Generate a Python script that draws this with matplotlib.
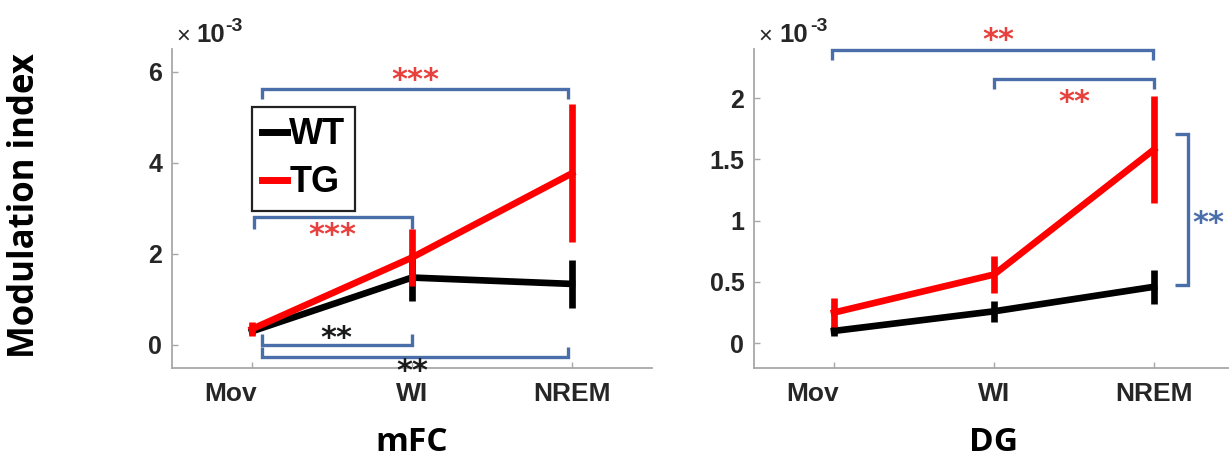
import matplotlib
matplotlib.use("Agg")
import matplotlib.pyplot as plt
from matplotlib.transforms import ScaledTranslation

# Modulation index values, in units of 1e-3
states = ["Mov", "WI", "NREM"]
x_pos = [1, 2, 3]

mfc_wt_mean = [0.30, 1.48, 1.34]
mfc_wt_err = [0.05, 0.52, 0.52]
mfc_tg_mean = [0.35, 1.92, 3.77]
mfc_tg_err = [0.16, 0.63, 1.52]

dg_wt_mean = [0.10, 0.26, 0.46]
dg_wt_err = [0.04, 0.085, 0.14]
dg_tg_mean = [0.25, 0.56, 1.58]
dg_tg_err = [0.12, 0.15, 0.44]

mfc_yticks = [0, 2, 4, 6]
mfc_yticklabels = ["0", "2", "4", "6"]
dg_yticks = [0, 0.5, 1, 1.5, 2]
dg_yticklabels = ["0", "0.5", "1", "1.5", "2"]

W, H = 1229, 463
fig = plt.figure(figsize=(W / 100, H / 100), dpi=100)

RED = "#ff0000"
BLACK = "#000000"
BRACKET = "#4a6ea9"
STAR_RED = "#e8403c"
STAR_BLUE = "#4a6ea9"
STAR_BLACK = "#1a1a1a"
TICK_COLOR = "#262626"
SPINE = "#a8a8a8"

def px_axes(left, top, right, bottom):
    return fig.add_axes([left / W, 1 - bottom / H, (right - left) / W, (bottom - top) / H])

ax1 = px_axes(172, 49, 652, 367.7)
ax2 = px_axes(754, 49, 1234, 367.7)

def style_axes(ax, ylim, yticks, yticklabels):
    ax.set_xlim(0.5, 3.5)
    ax.set_ylim(*ylim)
    for s in ("top", "right"):
        ax.spines[s].set_visible(False)
    for s in ("left", "bottom"):
        ax.spines[s].set_color(SPINE)
        ax.spines[s].set_linewidth(1.3)
    ax.set_xticks(x_pos)
    ax.set_xticklabels(states)
    ax.set_yticks(yticks)
    ax.set_yticklabels(yticklabels)
    ax.tick_params(axis="both", direction="in", length=4, width=1, color=SPINE,
                   labelcolor=TICK_COLOR)
    ax.tick_params(axis="y", labelsize=18, pad=7)
    ax.tick_params(axis="x", labelsize=19, pad=10)
    for lab in ax.get_xticklabels() + ax.get_yticklabels():
        lab.set_fontweight("bold")
        lab.set_fontfamily("Liberation Sans")
    # the first category label sits a little left of its tick
    first = ax.get_xticklabels()[0]
    first.set_transform(first.get_transform() + ScaledTranslation(-0.21, 0, fig.dpi_scale_trans))

def draw_series(ax, wt_m, wt_e, tg_m, tg_e):
    lw = 4.8
    h_wt = ax.errorbar(x_pos, wt_m, yerr=wt_e, color=BLACK, lw=lw, elinewidth=lw,
                       capsize=0, zorder=3, label="WT")
    h_tg = ax.errorbar(x_pos, tg_m, yerr=tg_e, color=RED, lw=lw, elinewidth=lw,
                       capsize=0, zorder=4, label="TG")
    return h_wt, h_tg

def bracket(ax, x0, x1, y, leg, lw=2.4):
    # horizontal significance bracket, legs pointing by `leg` (data units)
    ax.plot([x0, x0, x1, x1], [y + leg, y, y, y + leg], color=BRACKET, lw=lw,
            solid_capstyle="butt", solid_joinstyle="miter", clip_on=False, zorder=2)

def vbracket(ax, x_line, x_tip, y0, y1, lw=2.4):
    ax.plot([x_tip, x_line, x_line, x_tip], [y0, y0, y1, y1], color=BRACKET, lw=lw,
            solid_capstyle="butt", solid_joinstyle="miter", clip_on=False, zorder=2)

def stars(ax, x, y, s, color, size=22):
    ax.text(x, y, s, color=color, fontsize=size, ha="center", va="center",
            family="DejaVu Sans", fontweight="bold", clip_on=False, zorder=5)

# ---- mFC ----
style_axes(ax1, (-0.5, 6.5), mfc_yticks, mfc_yticklabels)
h_wt, h_tg = draw_series(ax1, mfc_wt_mean, mfc_wt_err, mfc_tg_mean, mfc_tg_err)

bracket(ax1, 1.06, 2.975, 5.62, -0.22)
stars(ax1, 2.02, 5.80, "***", STAR_RED)
bracket(ax1, 1.01, 2.00, 2.80, -0.25)
stars(ax1, 1.50, 2.40, "***", STAR_RED)
bracket(ax1, 1.06, 2.00, 0.00, 0.24)
stars(ax1, 1.53, 0.15, "**", STAR_BLACK)
bracket(ax1, 1.06, 2.975, -0.27, 0.22)
stars(ax1, 2.00, -0.58, "**", STAR_BLACK)

leg = ax1.legend(handles=[h_wt[0], h_tg[0]], labels=["WT", "TG"],
                 loc="upper left", bbox_to_anchor=(0.1667, 0.817),
                 prop={"family": "Liberation Sans", "weight": "bold", "size": 26},
                 handlelength=0.7, handletextpad=0.05, borderpad=0.28,
                 labelspacing=0.36, fancybox=False, framealpha=1, borderaxespad=0)
leg.get_frame().set_edgecolor("#222222")
leg.get_frame().set_linewidth(1.6)
for ln in leg.get_lines():
    ln.set_linewidth(5)

ax1.set_xlabel("mFC", fontsize=24, fontweight="bold", family="Open Sans", labelpad=15)
fig.text(25 / W, 1 - 206 / H, "Modulation index", rotation=90, ha="center", va="center",
         fontsize=25, fontweight="bold", family="Open Sans")

# ---- DG ----
style_axes(ax2, (-0.2, 2.4), dg_yticks, dg_yticklabels)
draw_series(ax2, dg_wt_mean, dg_wt_err, dg_tg_mean, dg_tg_err)

bracket(ax2, 0.99, 2.996, 2.39, -0.08)
stars(ax2, 2.03, 2.47, "**", STAR_RED)
bracket(ax2, 2.00, 3.00, 2.157, -0.082)
stars(ax2, 2.50, 1.96, "**", STAR_RED)
vbracket(ax2, 3.21, 3.13, 1.71, 0.476)
stars(ax2, 3.34, 0.98, "**", STAR_BLUE)

ax2.set_xlabel("DG", fontsize=24, fontweight="bold", family="Open Sans", labelpad=15)

# scale factor labels above each y axis
for x_times, x_ten, x_exp in ((176, 196, 225), (758, 779, 810)):
    fig.text(x_times / W, 1 - 42.5 / H, "×", fontsize=17, color=TICK_COLOR,
             family="Liberation Sans", va="baseline", ha="left")
    fig.text(x_ten / W, 1 - 42.5 / H, "10", fontsize=18.5, color=TICK_COLOR,
             family="Liberation Sans", fontweight="bold", va="baseline", ha="left")
    fig.text(x_exp / W, 1 - 31 / H, "-3", fontsize=14, color=TICK_COLOR,
             family="Liberation Sans", fontweight="bold", va="baseline", ha="left")

fig.savefig("out.png", dpi=100, facecolor="white")
